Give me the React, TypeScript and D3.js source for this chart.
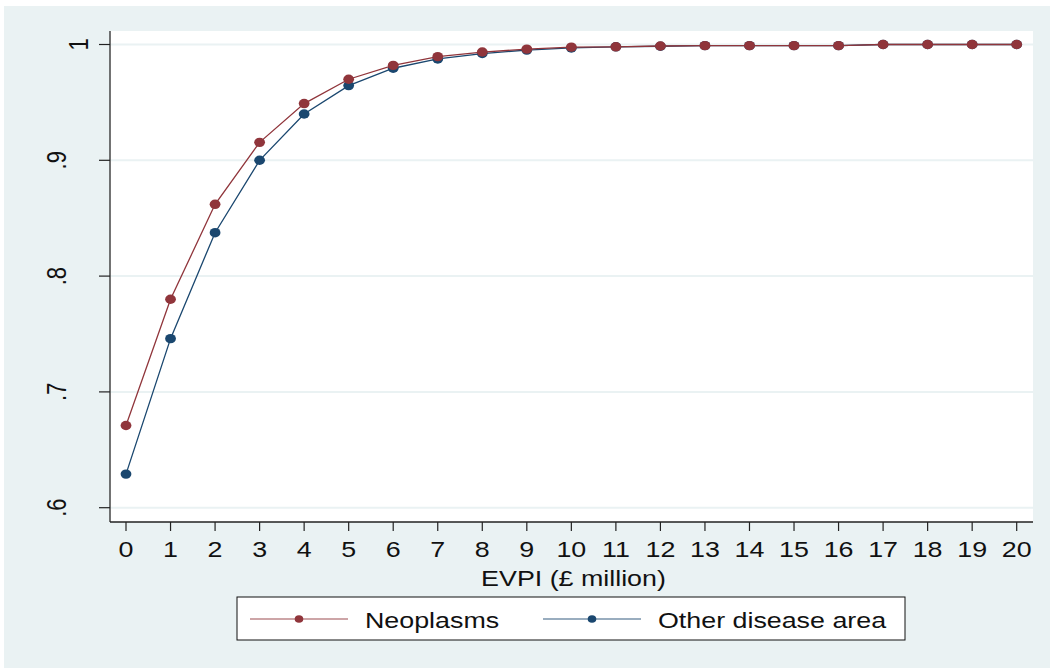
import React from "react";
import * as d3 from "d3";

const evpi = [0, 1, 2, 3, 4, 5, 6, 7, 8, 9, 10, 11, 12, 13, 14, 15, 16, 17, 18, 19, 20];
const neoplasms = [0.671, 0.780, 0.862, 0.9155, 0.949, 0.970, 0.982, 0.9895, 0.9935, 0.996, 0.9977, 0.998, 0.9987, 0.999, 0.999, 0.999, 0.999, 1, 1, 1, 1];
const otherArea = [0.629, 0.746, 0.8375, 0.900, 0.940, 0.9645, 0.9795, 0.9875, 0.9922, 0.9952, 0.997, 0.998, 0.9985, 0.999, 0.999, 0.999, 0.999, 1, 1, 1, 1];
const yTicks = [0.6, 0.7, 0.8, 0.9, 1];
const yTickLabels = [".6", ".7", ".8", ".9", "1"];
const seriesNames = ["Neoplasms", "Other disease area"];

const RED = "#90353b";
const NAVY = "#1a476f";
const BG = "#eaf2f3";
const FONT = "'Liberation Sans', Arial, Helvetica, sans-serif";
const SX = 1.22;

export default function App() {
  const x = d3.scaleLinear().domain([0, 20]).range([126, 1016.7]);
  const y = d3.scaleLinear().domain([0.6, 1]).range([507.7, 44.5]);
  const plot = { left: 110, right: 1033, top: 31, bottom: 522 };

  const line = d3
    .line<number>()
    .x((_, i) => x(evpi[i]))
    .y((d) => y(d));

  const series = [
    { name: seriesNames[0], values: neoplasms, color: RED },
    { name: seriesNames[1], values: otherArea, color: NAVY },
  ];

  return (
    <svg
      width={1050}
      height={668}
      style={{ position: "absolute", left: 0, top: 0 }}
      fontFamily={FONT}
    >
      <rect x={0} y={0} width={1050} height={668} fill="#ffffff" />
      <rect x={4} y={6} width={1046} height={662} fill={BG} />
      <rect
        x={plot.left}
        y={plot.top}
        width={plot.right - plot.left}
        height={plot.bottom - plot.top}
        fill="#ffffff"
      />
      {/* gridlines */}
      {yTicks.map((t) => (
        <line
          key={"g" + t}
          x1={plot.left}
          x2={plot.right}
          y1={y(t)}
          y2={y(t)}
          stroke={BG}
          strokeWidth={2}
        />
      ))}
      {/* series */}
      {series.slice().reverse().map((s) => (
        <g key={s.name}>
          <path d={line(s.values) || ""} fill="none" stroke={s.color} strokeWidth={1.3} />
          {s.values.map((v, i) => (
            <ellipse key={i} cx={x(evpi[i])} cy={y(v)} rx={5.4} ry={4.7} fill={s.color} />
          ))}
        </g>
      ))}
      {/* axes */}
      <line x1={plot.left} x2={plot.left} y1={plot.top} y2={plot.bottom} stroke="#444" strokeWidth={1.5} />
      <line x1={plot.left} x2={plot.right} y1={plot.bottom} y2={plot.bottom} stroke="#222" strokeWidth={1.5} />
      {yTicks.map((t, i) => {
        const lx = yTickLabels[i] === "1" ? 88 : 66;
        return (
          <g key={"yt" + t}>
            <line x1={99} x2={plot.left} y1={y(t)} y2={y(t)} stroke="#222" strokeWidth={1.2} />
            <text
              transform={`translate(${lx},${y(t)}) scale(${SX},1) rotate(-90)`}
              textAnchor="middle"
              fontSize={22}
              fill="#111"
            >
              {yTickLabels[i]}
            </text>
          </g>
        );
      })}
      {evpi.map((v) => (
        <g key={"xt" + v}>
          <line x1={x(v)} x2={x(v)} y1={plot.bottom} y2={531} stroke="#222" strokeWidth={1.2} />
          <text
            transform={`translate(${x(v)},557.3) scale(${SX},1)`}
            textAnchor="middle"
            fontSize={22}
            fill="#111"
          >
            {v}
          </text>
        </g>
      ))}
      <text
        transform={`translate(${(plot.left + plot.right) / 2 + 2},586) scale(${SX},1)`}
        textAnchor="middle"
        fontSize={22}
        fill="#111"
      >
        EVPI (£ million)
      </text>
      {/* legend */}
      <rect x={237} y={597} width={668} height={43} fill="#ffffff" stroke="#111" strokeWidth={1} />
      {series.map((s, i) => {
        const x0 = i === 0 ? 250 : 543;
        return (
          <g key={"lg" + s.name}>
            <line x1={x0} x2={x0 + 98} y1={619} y2={619} stroke={s.color} strokeOpacity={0.6} strokeWidth={1.3} />
            <ellipse cx={x0 + 49} cy={619} rx={4.3} ry={3.8} fill={s.color} />
            <text
              transform={`translate(${x0 + 115},628) scale(${SX},1)`}
              fontSize={22}
              fill="#111"
            >
              {s.name}
            </text>
          </g>
        );
      })}
    </svg>
  );
}
